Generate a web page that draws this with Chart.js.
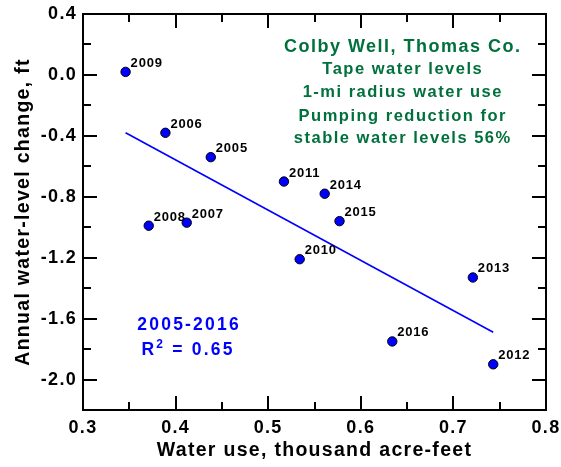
<!DOCTYPE html>
<html>
<head>
<meta charset="utf-8">
<script src="https://cdn.jsdelivr.net/npm/chart.js@4.4.1/dist/chart.umd.min.js"></script>
<style>
  html, body { margin: 0; padding: 0; background: #fff; }
  #wrap { width: 561px; height: 467px; }
</style>
</head>
<body>
<div id="wrap"><canvas id="myChart"></canvas></div>
<script>
const years = ['2005', '2006', '2007', '2008', '2009', '2010', '2011', '2012', '2013', '2014', '2015', '2016'];
const waterUse = [0.438, 0.389, 0.412, 0.371, 0.346, 0.534, 0.517, 0.743, 0.721, 0.561, 0.577, 0.634];
const levelChange = [-0.54, -0.38, -0.97, -0.99, 0.02, -1.21, -0.70, -1.90, -1.33, -0.78, -0.96, -1.75];

// fitted trend line, end points
const fitX = [0.346, 0.743];
const fitY = [-0.38, -1.69];

const xTicks = [0.3, 0.4, 0.5, 0.6, 0.7, 0.8];
const yTicks = [-2.0, -1.6, -1.2, -0.8, -0.4, 0.0, 0.4];
const xMinor = [0.35, 0.45, 0.55, 0.65, 0.75];
const yMinor = [-2.2, -1.8, -1.4, -1.0, -0.6, -0.2, 0.2];

const noteLines = ['Colby Well, Thomas Co.', 'Tape water levels', '1-mi radius water use', 'Pumping reduction for', 'stable water levels 56%'];
const periodLabel = '2005-2016';
const r2Value = '0.65';

const FONT = '"Liberation Sans", Arial, sans-serif';
const GREEN = '#00703c';
const BLUE = '#0000ff';

const points = waterUse.map((x, i) => ({ x: x, y: levelChange[i] }));
const fitLine = fitX.map((x, i) => ({ x: x, y: fitY[i] }));

// centred text with extra tracking (letterSpacing adds a trailing gap, so shift back)
function spacedText(ctx, text, x, y, spacing) {
    ctx.letterSpacing = spacing + 'px';
    ctx.fillText(text, x + spacing / 2, y);
}

// frame with inward tick marks on all four sides, plus text notes
const framePlugin = {
    id: 'frame',
    beforeDraw(chart) {
        chart.ctx.letterSpacing = '1.3px';
    },
    afterDraw(chart) {
        const ctx = chart.ctx;
        const a = chart.chartArea;
        const xs = chart.scales.x;
        const ys = chart.scales.y;
        ctx.save();
        ctx.strokeStyle = '#000';
        ctx.lineWidth = 2;
        ctx.strokeRect(a.left, a.top, a.right - a.left, a.bottom - a.top);

        const major = 14, minor = 8;
        ctx.beginPath();
        const xMark = (v, len) => {
            const px = Math.round(xs.getPixelForValue(v));
            ctx.moveTo(px, a.bottom); ctx.lineTo(px, a.bottom - len);
            ctx.moveTo(px, a.top); ctx.lineTo(px, a.top + len);
        };
        const yMark = (v, len) => {
            const py = Math.round(ys.getPixelForValue(v));
            ctx.moveTo(a.left, py); ctx.lineTo(a.left + len, py);
            ctx.moveTo(a.right, py); ctx.lineTo(a.right - len, py);
        };
        xTicks.slice(1, -1).forEach(v => xMark(v, major));
        xMinor.forEach(v => xMark(v, minor));
        yTicks.slice(0, -1).forEach(v => yMark(v, major));
        yMinor.forEach(v => yMark(v, minor));
        ctx.stroke();

        // year labels beside each point
        const meta = chart.getDatasetMeta(0);
        ctx.fillStyle = '#000';
        ctx.font = 'bold 13px ' + FONT;
        ctx.textAlign = 'left';
        ctx.textBaseline = 'alphabetic';
        ctx.letterSpacing = '0.8px';
        meta.data.forEach((el, i) => {
            ctx.fillText(years[i], el.x + 5, el.y - 5);
        });

        // well notes
        ctx.fillStyle = GREEN;
        ctx.textAlign = 'center';
        const baselines = [52, 74, 97, 120.5, 142.5];
        noteLines.forEach((t, i) => {
            ctx.font = (i === 0 ? 'bold 18px ' : 'bold 16.5px ') + FONT;
            spacedText(ctx, t, 402, baselines[i], 1.5);
        });

        // period and R squared
        ctx.fillStyle = BLUE;
        const big = 'bold 17.5px ' + FONT, small = 'bold 12px ' + FONT;
        ctx.font = big;
        spacedText(ctx, periodLabel, 188, 329.5, 2.2);
        const rest = ' = ' + r2Value;
        ctx.letterSpacing = '2.2px';
        const wR = ctx.measureText('R').width;
        const wRest = ctx.measureText(rest).width;
        ctx.font = small;
        const w2 = ctx.measureText('2').width;
        let x0 = 188 - (wR + w2 + wRest) / 2;
        ctx.textAlign = 'left';
        ctx.font = big;
        ctx.fillText('R', x0, 355);
        ctx.font = small;
        ctx.fillText('2', x0 + wR, 347.5);
        ctx.font = big;
        ctx.fillText(rest, x0 + wR + w2, 355);
        ctx.restore();
    }
};

new Chart(document.getElementById('myChart'), {
    type: 'scatter',
    data: {
        datasets: [{
            label: 'Water-level change',
            data: points,
            backgroundColor: BLUE,
            borderColor: '#000',
            borderWidth: 1,
            pointRadius: 4.7,
            pointHoverRadius: 4.7
        }, {
            type: 'line',
            label: 'Trend',
            data: fitLine,
            borderColor: BLUE,
            borderWidth: 1.6,
            pointRadius: 0,
            fill: false
        }]
    },
    options: {
        responsive: true,
        maintainAspectRatio: false,
        animation: false,
        events: [],
        layout: { padding: { top: 14, right: 15, left: 0, bottom: 0 } },
        plugins: {
            legend: { display: false },
            tooltip: { enabled: false }
        },
        scales: {
            x: {
                type: 'linear',
                min: 0.3,
                max: 0.8,
                afterBuildTicks: s => { s.ticks = xTicks.map(v => ({ value: v })); },
                afterFit: s => { s.height = 57; s.paddingLeft = 0; s.paddingRight = 0; },
                grid: { display: false, drawTicks: false },
                border: { display: false },
                ticks: {
                    color: '#000',
                    padding: 7,
                    font: { family: FONT, size: 18, weight: 'bold' },
                    callback: v => v.toFixed(1)
                },
                title: {
                    display: true,
                    text: 'Water use, thousand acre-feet',
                    color: '#000',
                    font: { family: FONT, size: 19.5, weight: 'bold' },
                    padding: { top: 0, bottom: 5 }
                }
            },
            y: {
                type: 'linear',
                min: -2.2,
                max: 0.4,
                afterBuildTicks: s => { s.ticks = yTicks.map(v => ({ value: v })); },
                afterFit: s => { s.width = 83; s.paddingTop = 0; s.paddingBottom = 0; },
                grid: { display: false, drawTicks: false },
                border: { display: false },
                ticks: {
                    color: '#000',
                    padding: 6,
                    font: { family: FONT, size: 18, weight: 'bold' },
                    callback: v => v.toFixed(1)
                },
                title: {
                    display: true,
                    text: 'Annual water-level change, ft',
                    color: '#000',
                    font: { family: FONT, size: 19.5, weight: 'bold' },
                    padding: { top: 12, bottom: 0 }
                }
            }
        }
    },
    plugins: [framePlugin]
});
</script>
</body>
</html>
